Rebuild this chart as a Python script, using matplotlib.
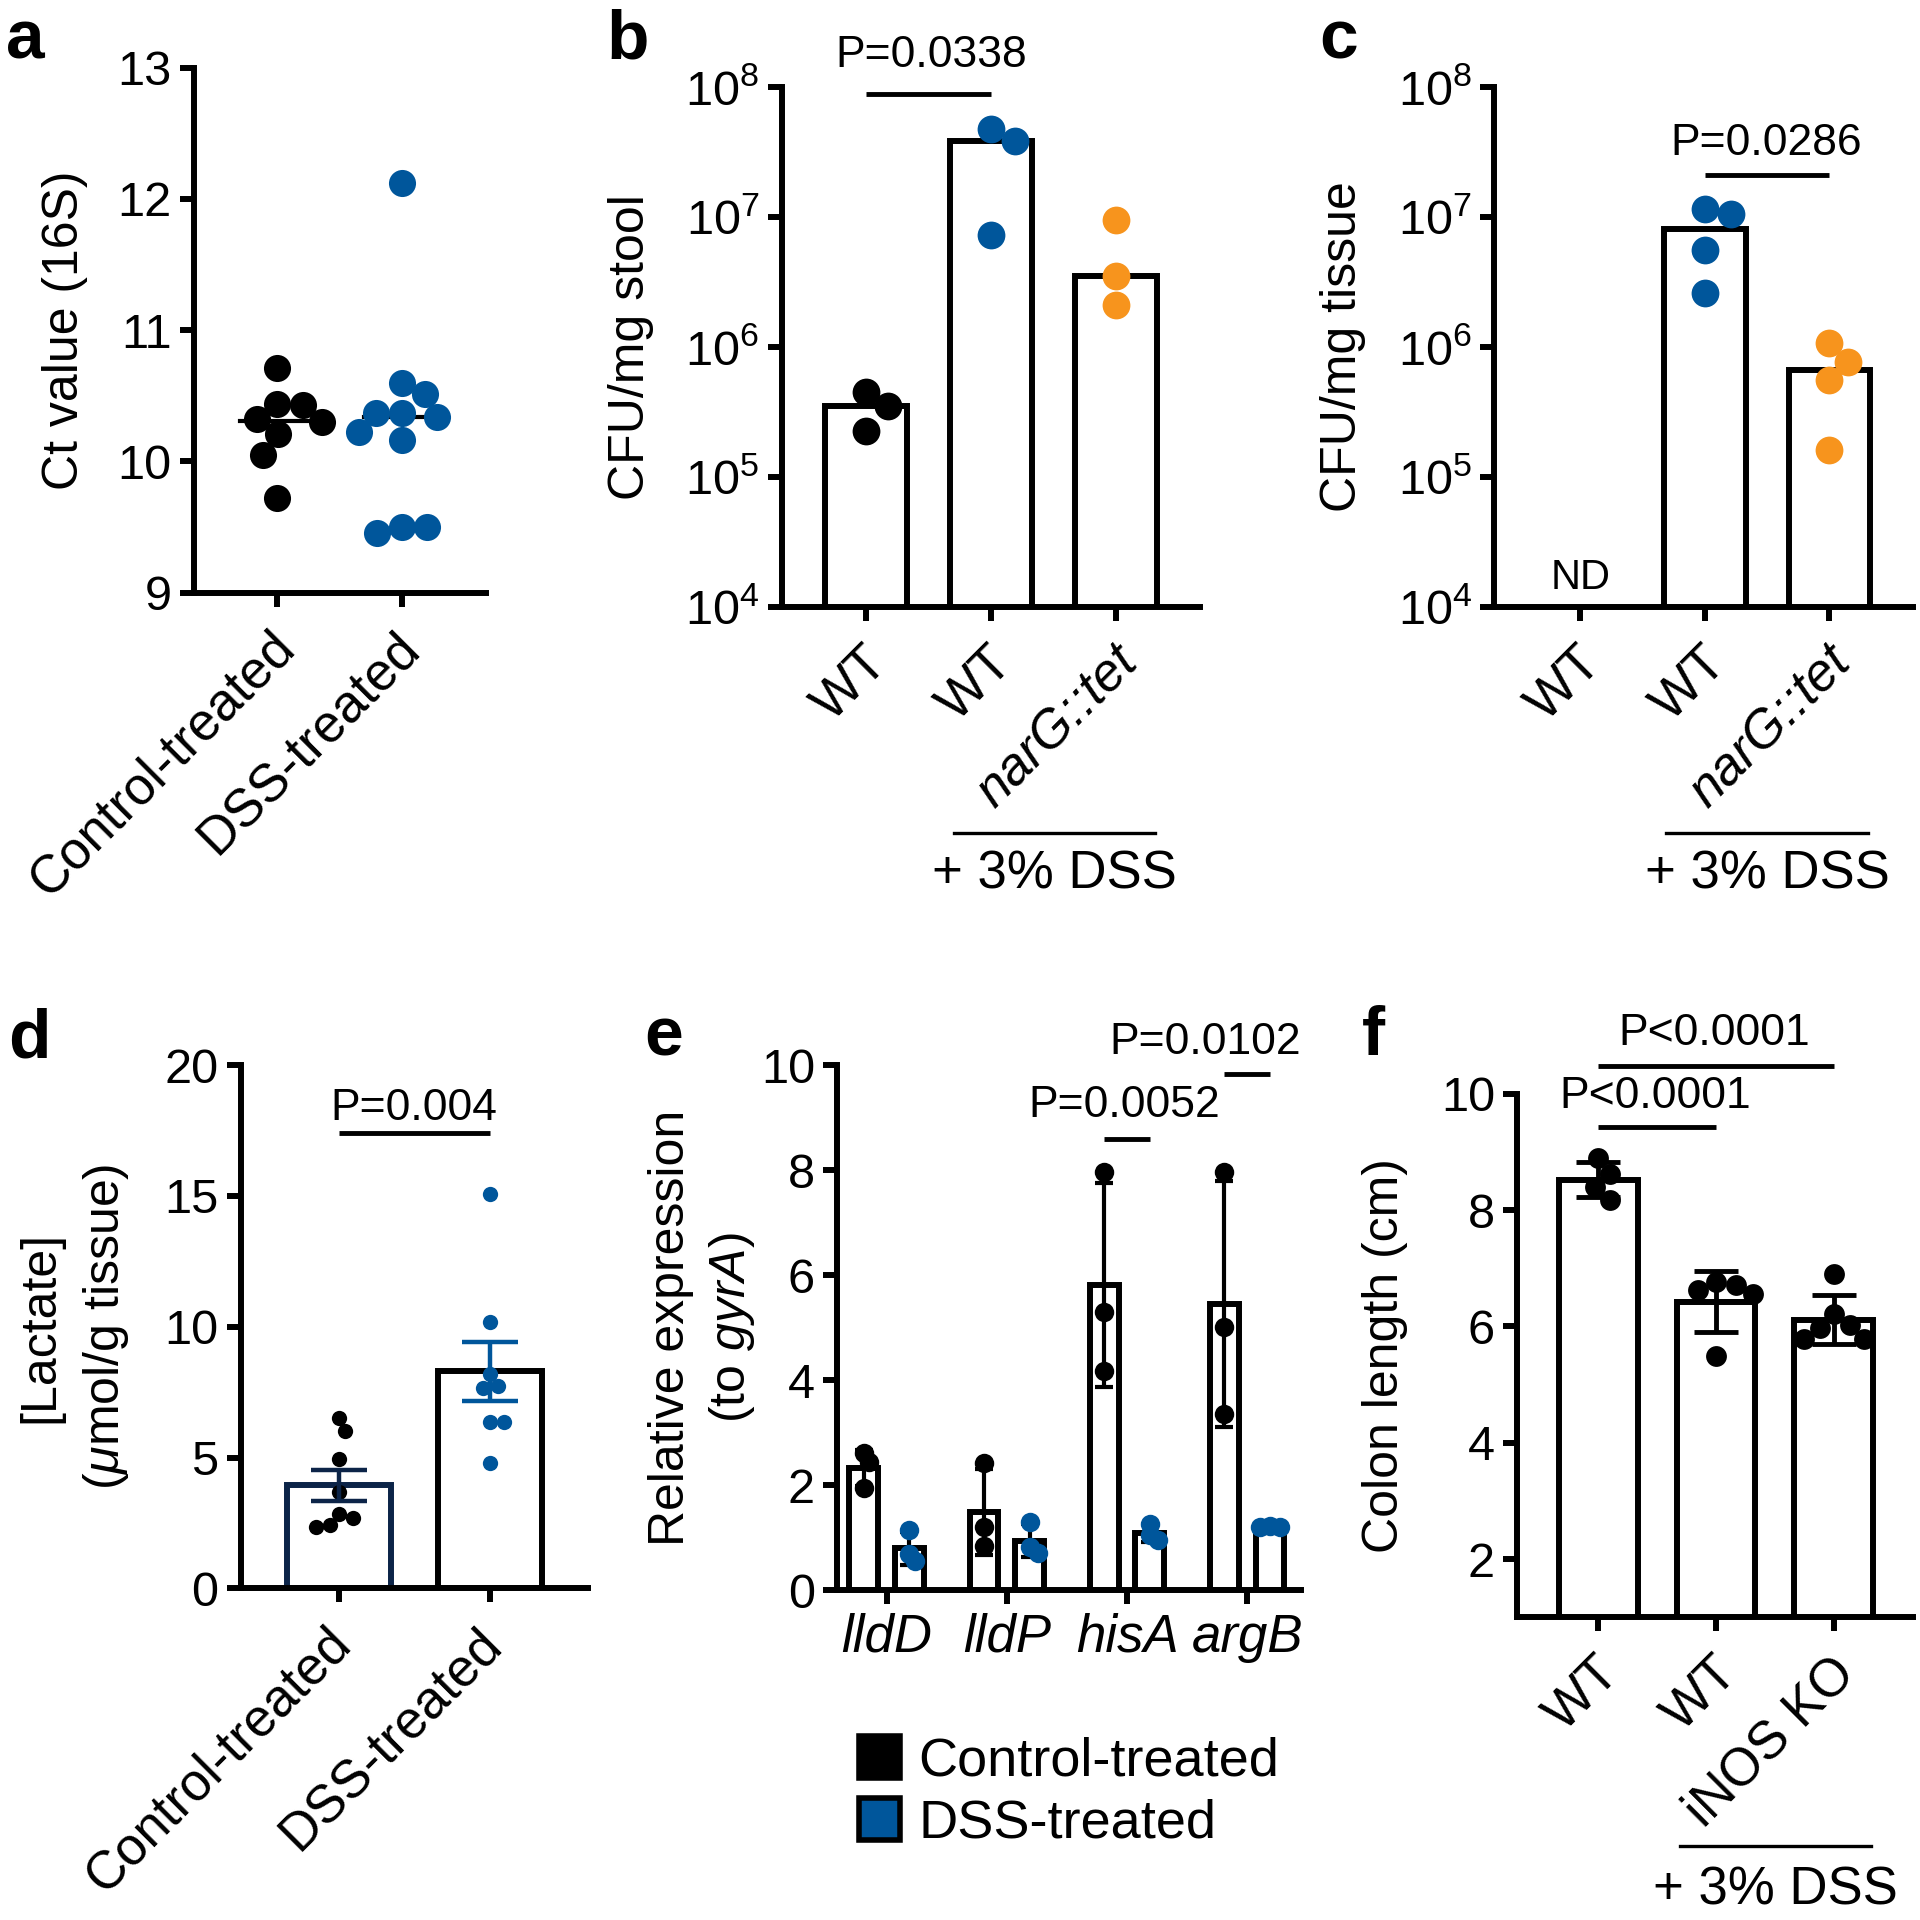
import numpy as np
import matplotlib
matplotlib.use('Agg')
import matplotlib.pyplot as plt
from matplotlib.ticker import FixedLocator, NullLocator, FuncFormatter
from matplotlib.transforms import ScaledTranslation
from matplotlib.patches import Patch

plt.rcParams['font.family'] = ['Liberation Sans', 'DejaVu Sans']
plt.rcParams['mathtext.fontset'] = 'custom'
plt.rcParams['mathtext.rm'] = 'Liberation Sans'
plt.rcParams['mathtext.it'] = 'Liberation Sans:italic'
plt.rcParams['mathtext.bf'] = 'Liberation Sans:bold'

# ---------------- data ----------------
a_groups = ['Control-treated', 'DSS-treated']
a_control = [10.71, 10.44, 10.43, 10.32, 10.30, 10.21, 10.05, 9.72]
a_dss = [12.12, 10.60, 10.51, 10.37, 10.37, 10.34, 10.22, 10.16, 9.50, 9.50, 9.45]

b_labels = ['WT', 'WT', 'narG::tet']
b_wt_ctrl = [4.5e5, 3.5e5, 2.25e5]
b_wt_dss = [4.7e7, 3.8e7, 7.3e6]
b_narg = [9.5e6, 3.5e6, 2.1e6]
b_p = 'P=0.0338'

c_labels = ['WT', 'WT', 'narG::tet']
c_wt_dss = [1.14e7, 1.05e7, 5.6e6, 2.6e6]
c_narg = [1.07e6, 7.7e5, 5.6e5, 1.6e5]
c_p = 'P=0.0286'
c_nd = 'ND'

d_groups = ['Control-treated', 'DSS-treated']
d_control = [6.53, 6.03, 4.93, 3.67, 2.86, 2.70, 2.41, 2.36]
d_dss = [15.08, 10.19, 8.18, 7.72, 7.67, 6.35, 6.35, 4.81]
d_p = 'P=0.004'

e_genes = ['lldD', 'lldP', 'hisA', 'argB']
e_control = [[2.61, 2.45, 1.95], [2.42, 1.20, 0.85], [7.97, 5.29, 4.18], [7.97, 5.02, 3.35]]
e_dss = [[1.15, 0.70, 0.55], [1.30, 0.82, 0.72], [1.27, 1.05, 0.95], [1.22, 1.20, 1.21]]
e_p = ['P=0.0052', 'P=0.0102']
e_legend = ['Control-treated', 'DSS-treated']

f_labels = ['WT', 'WT', 'iNOS KO']
f_wt = [8.89, 8.62, 8.40, 8.18]
f_wt_dss = [6.76, 6.71, 6.62, 6.55, 5.49]
f_inos = [6.91, 6.22, 6.02, 5.97, 5.78, 5.78]
f_p = ['P<0.0001', 'P<0.0001']

# ---------------- style ----------------
BLUE = '#00569b'
ORANGE = '#f7941d'
NAVY = '#0c2448'
LW = 4.3
TICKFS = 35
XLFS = 38
YLFS = 36
PFS = 32
DPI = 100

fig = plt.figure(figsize=(19.2, 19.2), dpi=DPI)


def style(ax):
    for s in ['top', 'right']:
        ax.spines[s].set_visible(False)
    for s in ['left', 'bottom']:
        ax.spines[s].set_linewidth(LW)
    ax.tick_params(width=LW, length=10, labelsize=TICKFS, pad=6)


def swarm(ax, xc, vals, ms, frac=0.95):
    vals = np.asarray(vals, float)
    diam = ms * DPI / 72.0 * frac
    disp = ax.transData.transform(np.column_stack([np.full(len(vals), xc), vals]))
    ys = disp[:, 1]
    x0 = disp[0, 0]
    placed = []
    offs = np.zeros(len(vals))
    for i in np.argsort(-ys):
        y = ys[i]
        cands = [0.0]
        for px, py in placed:
            dy = y - py
            if abs(dy) < diam:
                dx = np.sqrt(diam ** 2 - dy ** 2)
                cands += [px + dx, px - dx]
        best = 0.0
        for c in sorted(cands, key=abs):
            if all((c - px) ** 2 + (y - py) ** 2 >= diam ** 2 - 1e-6 for px, py in placed):
                best = c
                break
        placed.append((best, y))
        offs[i] = best
    back = ax.transData.inverted().transform(np.column_stack([x0 + offs, ys]))
    return back[:, 0]


def rot_labels(ax, labels, fs, italic=(), dx=-4, dy=-8):
    ax.set_xticklabels(labels, rotation=45, ha='right', va='top',
                       rotation_mode='anchor', fontsize=fs)
    off = ScaledTranslation(dx / DPI, dy / DPI, fig.dpi_scale_trans)
    for i, lab in enumerate(ax.get_xticklabels()):
        lab.set_transform(lab.get_transform() + off)
        if i in italic:
            lab.set_fontstyle('italic')


def sig(ax, x1, x2, y, text, tx, ty, lw=3.5):
    ax.plot([x1, x2], [y, y], color='black', lw=lw, clip_on=False, solid_capstyle='butt')
    ax.text(tx, ty, text, ha='center', va='center', fontsize=PFS)


def dss_group(ax, x1, x2, yl, yt):
    tr = ax.get_xaxis_transform()
    ax.plot([x1, x2], [yl, yl], color='black', lw=2.4, transform=tr, clip_on=False)
    ax.text((x1 + x2) / 2, yt, '+ 3% DSS', ha='center', va='center', fontsize=XLFS,
            transform=tr)


# ---------------- panel a ----------------
axa = fig.add_axes([0.101, 0.6914, 0.152, 0.2734])
style(axa)
axa.set_xlim(-0.67, 1.675)
axa.set_ylim(9, 13)
axa.set_yticks([9, 10, 11, 12, 13])
axa.set_xticks([0, 1])
rot_labels(axa, a_groups, XLFS, dx=-8)
axa.set_ylabel('Ct value (16S)', fontsize=YLFS, va='center')
axa.yaxis.set_label_coords(-0.442, 0.5)
for i, (vals, col) in enumerate([(a_control, 'black'), (a_dss, BLUE)]):
    med = np.median(vals)
    axa.plot([i - 0.3, i + 0.3], [med, med], color='black', lw=3, zorder=3)
    xs = swarm(axa, i, vals, 19.5)
    axa.plot(xs, vals, 'o', color=col, ms=19.5, mew=0, zorder=4, clip_on=False)

# ---------------- panel b ----------------
axb = fig.add_axes([0.4071, 0.6838, 0.2178, 0.2710])
style(axb)
axb.set_yscale('log')
axb.set_xlim(-0.675, 2.67)
axb.set_ylim(1e4, 1e8)
axb.yaxis.set_major_locator(FixedLocator([1e4, 1e5, 1e6, 1e7, 1e8]))
axb.yaxis.set_minor_locator(NullLocator())
logfmt = FuncFormatter(lambda v, p: r'$10^{%d}$' % int(round(np.log10(v))))
axb.yaxis.set_major_formatter(logfmt)
axb.set_xticks([0, 1, 2])
rot_labels(axb, b_labels, XLFS, italic=(2,))
axb.set_ylabel('CFU/mg stool', fontsize=YLFS, va='center')
axb.yaxis.set_label_coords(-0.361, 0.5)
for i, (vals, col) in enumerate([(b_wt_ctrl, 'black'), (b_wt_dss, BLUE), (b_narg, ORANGE)]):
    axb.bar(i, np.median(vals), width=0.65, bottom=1, facecolor='white', edgecolor='black',
            lw=LW, zorder=2)
    xs = swarm(axb, i, vals, 20)
    axb.plot(xs, vals, 'o', color=col, ms=20, mew=0, zorder=4, clip_on=False)
sig(axb, 0, 1, 8.8e7, b_p, 0.52, 10 ** 8.24)
dss_group(axb, 0.70, 2.31, -0.434, -0.513)

# ---------------- panel c ----------------
axc = fig.add_axes([0.7783, 0.6838, 0.2179, 0.2710])
style(axc)
axc.set_yscale('log')
axc.set_xlim(-0.69, 2.67)
axc.set_ylim(1e4, 1e8)
axc.yaxis.set_major_locator(FixedLocator([1e4, 1e5, 1e6, 1e7, 1e8]))
axc.yaxis.set_minor_locator(NullLocator())
axc.yaxis.set_major_formatter(logfmt)
axc.set_xticks([0, 1, 2])
rot_labels(axc, c_labels, XLFS, italic=(2,))
axc.set_ylabel('CFU/mg tissue', fontsize=YLFS, va='center')
axc.yaxis.set_label_coords(-0.362, 0.5)
axc.text(0, 10 ** 4.22, c_nd, ha='center', va='center', fontsize=30)
for i, (vals, col) in zip([1, 2], [(c_wt_dss, BLUE), (c_narg, ORANGE)]):
    axc.bar(i, np.median(vals), width=0.655, bottom=1, facecolor='white', edgecolor='black',
            lw=LW, zorder=2)
    xs = swarm(axc, i, vals, 20)
    axc.plot(xs, vals, 'o', color=col, ms=20, mew=0, zorder=4, clip_on=False)
sig(axc, 1, 2, 2.1e7, c_p, 1.49, 10 ** 7.567)
dss_group(axc, 0.69, 2.31, -0.434, -0.513)

# ---------------- panel d ----------------
axd = fig.add_axes([0.1254, 0.1727, 0.1807, 0.2726])
style(axd)
axd.set_xlim(-0.65, 1.65)
axd.set_ylim(0, 20)
axd.set_yticks([0, 5, 10, 15, 20])
axd.set_xticks([0, 1])
rot_labels(axd, d_groups, XLFS, dx=-14)
axd.set_ylabel('[Lactate]\n' + r'($\mathit{\mu}$mol/g tissue)', fontsize=YLFS, va='center',
               linespacing=1.45)
axd.yaxis.set_label_coords(-0.48, 0.5)
for i, (vals, col, edge, ecol) in enumerate([(d_control, 'black', NAVY, NAVY),
                                             (d_dss, BLUE, 'black', BLUE)]):
    m = np.mean(vals)
    sem = np.std(vals, ddof=1) / np.sqrt(len(vals))
    axd.bar(i, m, width=0.69, facecolor='white', edgecolor=edge, lw=LW, zorder=2)
    xs = swarm(axd, i, vals, 11)
    axd.plot(xs, vals, 'o', color=col, ms=11, mew=0, zorder=3)
    axd.errorbar(i, m, yerr=sem, fmt='none', ecolor=ecol, elinewidth=3.2, capsize=20,
                 capthick=3.2, zorder=4)
sig(axd, 0, 1, 17.41, d_p, 0.5, 18.33)

# ---------------- panel e ----------------
axe = fig.add_axes([0.4361, 0.1717, 0.2414, 0.2736])
style(axe)
axe.set_xlim(-0.41, 3.446)
axe.set_ylim(0, 10)
axe.set_yticks([0, 2, 4, 6, 8, 10])
axe.set_xticks(range(len(e_genes)))
axe.set_xticklabels(e_genes, fontsize=XLFS, fontstyle='italic')
axe.set_ylabel('Relative expression\n' + r'(to $\mathit{gyrA}$)', fontsize=YLFS, va='center',
               linespacing=1.35)
axe.yaxis.set_label_coords(-0.291, 0.5)
off = 0.19
for g in range(len(e_genes)):
    for vals, col, dx in [(e_control[g], 'black', -off), (e_dss[g], BLUE, off)]:
        m = np.mean(vals)
        sd = np.std(vals, ddof=1)
        axe.bar(g + dx, m, width=0.24, facecolor='white', edgecolor='black', lw=LW, zorder=2)
        axe.errorbar(g + dx, m, yerr=sd, fmt='none', ecolor='black', elinewidth=3,
                     capsize=6.5, capthick=3, zorder=3)
        xs = swarm(axe, g + dx, vals, 14, frac=0.5)
        axe.plot(xs, vals, 'o', color=col, ms=14, mew=0, zorder=4)
sig(axe, 2 - off, 2 + off, 8.6, e_p[0], 1.98, 9.22)
sig(axe, 3 - off, 3 + off, 9.83, e_p[1], 2.65, 10.42)
handles = [Patch(facecolor='black', edgecolor='black', lw=4),
           Patch(facecolor=BLUE, edgecolor='black', lw=4)]
fig.legend(handles, e_legend, loc='upper left', bbox_to_anchor=(0.4474, 0.0958),
           frameon=False, fontsize=39, handlelength=0.75, handleheight=0.82,
           handletextpad=0.35, labelspacing=0.2, borderpad=0, borderaxespad=0)

# ---------------- panel f ----------------
axf = fig.add_axes([0.7902, 0.1577, 0.2063, 0.2726])
style(axf)
axf.set_xlim(-0.69, 2.676)
axf.set_ylim(1, 10)
axf.set_yticks([2, 4, 6, 8, 10])
axf.set_xticks([0, 1, 2])
rot_labels(axf, f_labels, XLFS)
axf.set_ylabel('Colon length (cm)', fontsize=YLFS, va='center')
axf.yaxis.set_label_coords(-0.333, 0.5)
for i, vals in enumerate([f_wt, f_wt_dss, f_inos]):
    m = np.mean(vals)
    sd = np.std(vals, ddof=1)
    axf.bar(i, m, width=0.667, facecolor='white', edgecolor='black', lw=LW, zorder=2)
    xs = swarm(axf, i, vals, 15)
    axf.plot(xs, vals, 'o', color='black', ms=15, mew=0, zorder=3)
    axf.errorbar(i, m, yerr=sd, fmt='none', ecolor='black', elinewidth=3.5, capsize=15.5,
                 capthick=3.5, zorder=4)
sig(axf, 0, 1, 9.43, f_p[0], 0.48, 9.95)
sig(axf, 0, 2, 10.48, f_p[1], 0.985, 11.03)
dss_group(axf, 0.69, 2.32, -0.4375, -0.523)

# ---------------- panel letters ----------------
for letter, x, y in [('a', 0.003, 0.9694), ('b', 0.3156, 0.9694), ('c', 0.6869, 0.9694),
                     ('d', 0.004, 0.449), ('e', 0.3357, 0.4505), ('f', 0.7094, 0.4505)]:
    fig.text(x, y, letter, fontsize=50, fontweight='bold', ha='left', va='baseline')

fig.savefig('out.png', dpi=DPI)
